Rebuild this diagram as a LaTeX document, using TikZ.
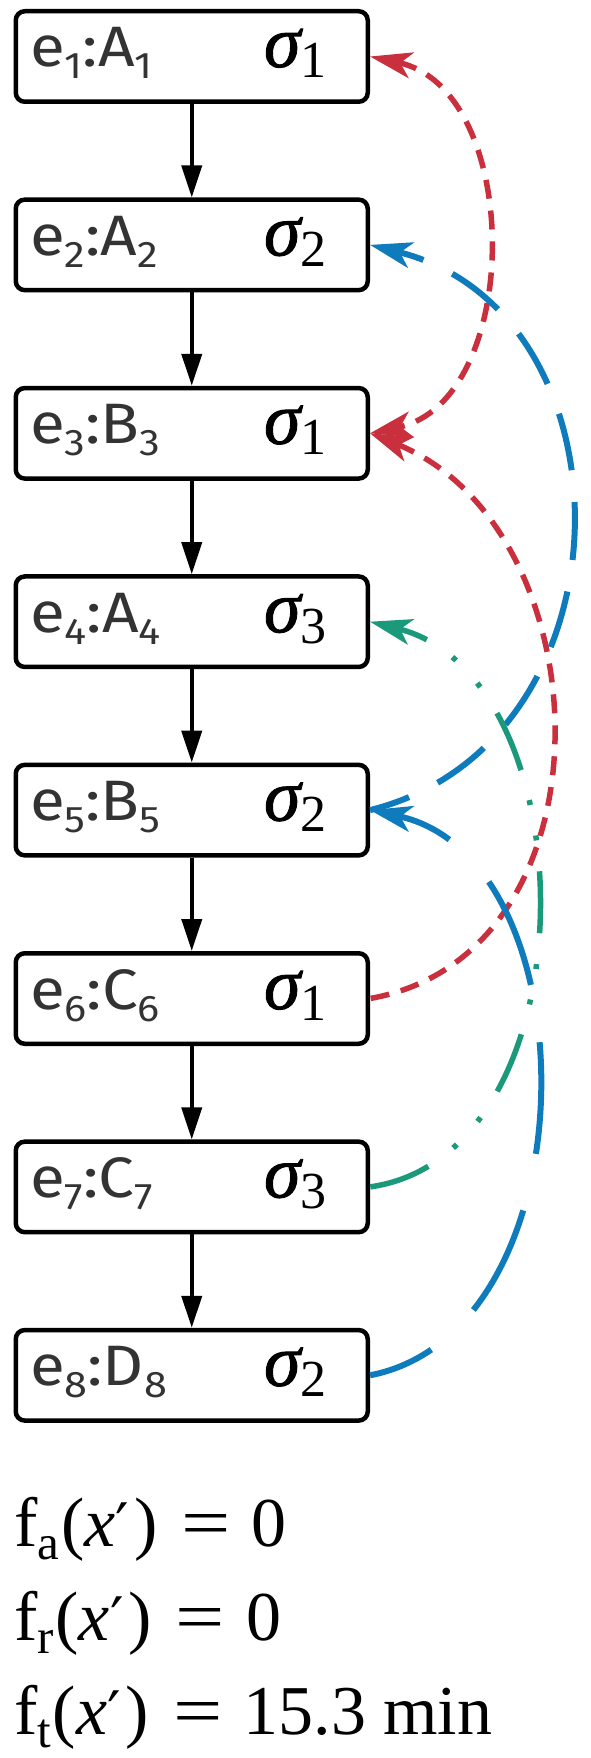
\documentclass[tikz,border=0pt]{standalone}
\usepackage{fontspec}
\usepackage{graphicx}
\usetikzlibrary{arrows.meta}
\setmainfont{Liberation Serif}
\newfontfamily\labfont[FakeStretch=1.12]{Fira Sans}
\newfontfamily\serfont{Liberation Serif}
\newfontfamily\sigfont[FakeBold=1.2]{Liberation Serif}
\newfontfamily\primefont{DejaVu Serif}
\definecolor{myred}{HTML}{C92F3C}
\definecolor{myblue}{HTML}{0E7BBD}
\definecolor{mygreen}{HTML}{1B9A7B}
\definecolor{labgray}{HTML}{333333}
\newcommand\evlab[2]{{\fontsize{57}{57}\selectfont\labfont\color{labgray}e\raisebox{-12pt}{\fontsize{37}{37}\selectfont #1}:#2\raisebox{-12pt}{\fontsize{37}{37}\selectfont #1}}}
\newcommand\siglab[1]{{\fontsize{74}{74}\selectfont\sigfont\itshape σ\upshape\raisebox{-11pt}{\fontsize{52}{52}\selectfont\serfont #1}}}
\newcommand\feq[3]{{\fontsize{70}{70}\selectfont\serfont f\raisebox{-13pt}{\fontsize{49}{49}\selectfont #1}\kern#3(\textit{x}{\primefont\fontsize{60}{60}\selectfont ′}\kern5pt)\kern24pt\scalebox{1.25}[1]{=}\kern21pt#2}}
\begin{document}
\begin{tikzpicture}[x=1pt,y=1pt,
  evbox/.style={draw=black,line width=4.5pt,rounded corners=9pt,minimum width=352pt,minimum height=90.5pt,inner sep=0pt},
  txt/.style={anchor=base west,inner sep=0pt,outer sep=0pt},
  flow/.style={line width=4pt,-{Triangle[length=32pt,width=20pt]}},
  redln/.style={draw=myred,line width=5.5pt,dash pattern=on 19pt off 12pt},
  blueA/.style={draw=myblue,line width=6pt,dash pattern=on 58pt off 32pt,dash phase=31pt},
  blueB/.style={draw=myblue,line width=6pt,dash pattern=on 112pt off 58pt,dash phase=55pt},
  greenln/.style={draw=mygreen,line width=5.5pt,dash pattern=on 62pt off 31pt on 5pt off 31pt on 5pt off 31pt,dash phase=31pt},
  headS/.style={arrows={Stealth[length=42pt,width=26pt,inset=11pt]-}},
  headSE/.style={arrows={Stealth[length=42pt,width=26pt,inset=11pt]-Stealth[length=42pt,width=26pt,inset=11pt]}}
]
\path[use as bounding box] (0,0) rectangle (590,-1758);
\foreach \i/\L/\s in {1/A/1,2/A/2,3/B/1,4/A/3,5/B/2,6/C/1,7/C/3,8/D/2}{
  \node[evbox] (b\i) at (191.75,{-56.5-188.4*(\i-1)}) {};
  \node[txt] (l\i) at (30,{-67-188.4*(\i-1)}) {\evlab{\i}{\L}};
  \node[txt] (s\i) at (264,{-67-188.4*(\i-1)}) {\siglab{\s}};
}
\foreach \i in {1,...,7}{
  \pgfmathtruncatemacro\j{\i+1}
  \draw[flow] (b\i.south) -- (b\j.north);
}
\draw[redln,headSE] (b1.east) to[out=-12,in=12,looseness=1.07] (b3.east);
\draw[redln,headS] (b3.east) to[out=-22,in=10,looseness=1.15] (b6.east);
\draw[blueA,headS] (b2.east) to[out=-14,in=14,looseness=1.255] (b5.east);
\draw[greenln,headS] (b4.east) to[out=-14,in=8,looseness=1.03] (b7.east);
\draw[blueB,headS] (b5.east) to[out=-12,in=11,looseness=1.035] (b8.east);
\node[txt] (fa) at (14,-1546) {\feq{a}{0}{2pt}};
\node[txt] (fr) at (14,-1640) {\feq{r}{0}{2pt}};
\node[txt] (ft) at (14,-1734) {\feq{t}{15.3 min}{2pt}};
\end{tikzpicture}
\end{document}
